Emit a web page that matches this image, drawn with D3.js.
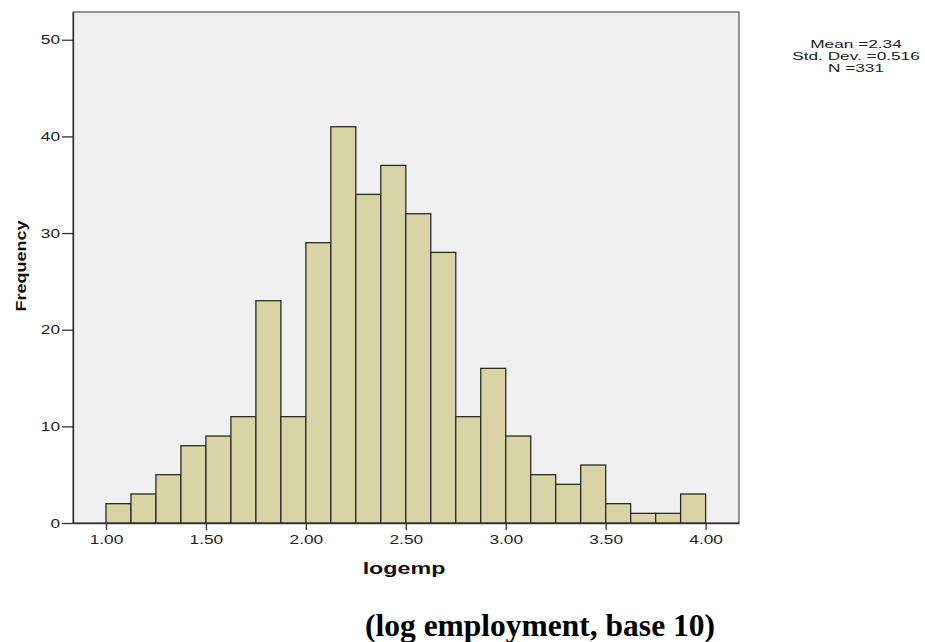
<!DOCTYPE html>
<html>
<head>
<meta charset="utf-8">
<script src="https://cdn.jsdelivr.net/npm/d3@7"></script>
<style>
  body { margin: 0; background: #fff; }
  svg text { font-family: "Liberation Sans", Arial, sans-serif; }
</style>
</head>
<body>
<div id="chart"></div>
<script>
// histogram of logemp, bins of width 0.125 starting at 1.00
var binStarts = [1.000, 1.125, 1.250, 1.375, 1.500, 1.625, 1.750, 1.875,
                 2.000, 2.125, 2.250, 2.375, 2.500, 2.625, 2.750, 2.875,
                 3.000, 3.125, 3.250, 3.375, 3.500, 3.625, 3.750, 3.875];
var counts = [2, 3, 5, 8, 9, 11, 23, 11, 29, 41, 34, 37, 32, 28, 11, 16, 9, 5, 4, 6, 2, 1, 1, 3];
var binWidth = 0.125;
var xTicks = [1.0, 1.5, 2.0, 2.5, 3.0, 3.5, 4.0];
var yTicks = [0, 10, 20, 30, 40, 50];
var statLines = ["Mean =2.34", "Std. Dev. =0.516", "N =331"];

var width = 925, height = 642;
var plot = { left: 73, top: 12, right: 739, bottom: 523 };
// SPSS output text is drawn wider than normal Arial
var stretchX = 1.33;

var svg = d3.select("#chart").append("svg")
    .attr("width", width)
    .attr("height", height);

var x = d3.scaleLinear()
    .domain([0.835, 4.167])
    .range([plot.left, plot.right]);

var y = d3.scaleLinear()
    .domain([0, 52.87])
    .range([plot.bottom, plot.top]);

// plot background
svg.append("rect")
    .attr("x", plot.left)
    .attr("y", plot.top)
    .attr("width", plot.right - plot.left)
    .attr("height", plot.bottom - plot.top)
    .attr("fill", "#f0f0f0")
    .attr("stroke", "#333")
    .attr("stroke-width", 1);

// bars
svg.selectAll(".bar")
    .data(counts)
    .enter()
    .append("rect")
    .attr("class", "bar")
    .attr("x", function(d, i) { return x(binStarts[i]); })
    .attr("y", function(d) { return y(d); })
    .attr("width", function(d, i) { return x(binStarts[i] + binWidth) - x(binStarts[i]); })
    .attr("height", function(d) { return y(0) - y(d); })
    .attr("fill", "#d9d4a6")
    .attr("stroke", "#2b2b2b")
    .attr("stroke-width", 1.3);

// axes
var xAxis = d3.axisBottom(x)
    .tickValues(xTicks)
    .tickFormat(d3.format(".2f"))
    .tickSizeInner(7)
    .tickSizeOuter(0)
    .tickPadding(5);

var yAxis = d3.axisLeft(y)
    .tickValues(yTicks)
    .tickSizeInner(11)
    .tickSizeOuter(0)
    .tickPadding(2);

var gx = svg.append("g")
    .attr("transform", "translate(0," + plot.bottom + ")")
    .call(xAxis);

var gy = svg.append("g")
    .attr("transform", "translate(" + plot.left + ",0)")
    .call(yAxis);

[gx, gy].forEach(function(g) {
    g.select(".domain").attr("stroke", "#333").attr("stroke-width", 1.3);
    g.selectAll(".tick line").attr("stroke", "#333").attr("stroke-width", 1.3);
    g.selectAll(".tick text")
        .attr("fill", "#222")
        .style("font-size", "13px")
        .style("font-family", "'Liberation Sans', Arial, sans-serif")
        .each(function() {
            var t = d3.select(this);
            var tx = +t.attr("x") || 0;
            t.attr("x", 0)
             .attr("transform", "translate(" + tx + ",0) scale(" + stretchX + ",1)");
        });
});

// axis titles
svg.append("text")
    .attr("transform", "translate(404,574) scale(1.37,1)")
    .attr("text-anchor", "middle")
    .style("font-size", "17px")
    .style("font-weight", "bold")
    .attr("fill", "#111")
    .text("logemp");

svg.append("text")
    .attr("transform", "translate(26,266) rotate(-90) scale(1.2,1)")
    .attr("text-anchor", "middle")
    .style("font-size", "15px")
    .style("font-weight", "bold")
    .attr("fill", "#111")
    .text("Frequency");

// summary statistics
svg.append("g")
    .selectAll("text")
    .data(statLines)
    .enter()
    .append("text")
    .attr("transform", function(d, i) {
        return "translate(856," + (48 + i * 11.8) + ") scale(1.5,1)";
    })
    .attr("text-anchor", "middle")
    .style("font-size", "11.5px")
    .attr("fill", "#222")
    .text(function(d) { return d; });

// caption below the chart
svg.append("text")
    .attr("x", 540)
    .attr("y", 636)
    .attr("text-anchor", "middle")
    .style("font-family", "'Liberation Serif', 'Times New Roman', serif")
    .style("font-size", "31.5px")
    .style("font-weight", "bold")
    .attr("fill", "#000")
    .text("(log employment, base 10)");
</script>
</body>
</html>
